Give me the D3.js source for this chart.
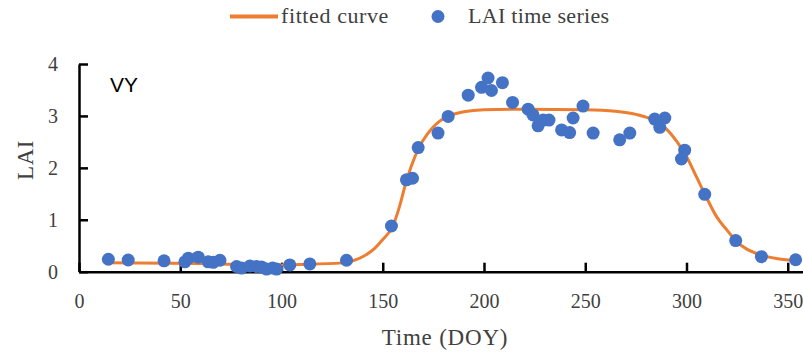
<!DOCTYPE html>
<html>
<head>
<meta charset="utf-8">
<script src="https://cdn.jsdelivr.net/npm/d3@7"></script>
<style>
body { margin: 0; background: #fff; }
</style>
</head>
<body>
<div id="divcont"></div>
<script>
var obsDoy = [14.5, 24.3, 42.0, 52.3, 54.0, 58.9, 63.8, 66.3, 69.6, 77.8, 80.3, 84.4, 87.7, 90.2, 92.6, 95.6, 97.6, 104.1, 114.0, 132.1,
  154.3, 161.7, 164.7, 167.5, 177.3, 182.3, 192.2, 198.8, 202.0, 203.7, 209.1, 214.1, 221.8, 224.2, 226.7, 229.2, 232.1,
  238.3, 242.3, 244.0, 248.9, 253.9, 267.0, 272.0, 284.3, 286.8, 289.3, 297.5, 299.1, 309.0, 324.3, 337.0, 353.9]
var obsLai = [0.24, 0.225, 0.21, 0.19, 0.26, 0.28, 0.19, 0.18, 0.22, 0.10, 0.07, 0.11, 0.10, 0.09, 0.05, 0.07, 0.05, 0.13, 0.15, 0.22,
  0.88, 1.77, 1.80, 2.39, 2.67, 2.99, 3.40, 3.55, 3.73, 3.49, 3.64, 3.26, 3.13, 3.02, 2.81, 2.92, 2.92,
  2.73, 2.68, 2.96, 3.19, 2.67, 2.54, 2.67, 2.94, 2.78, 2.96, 2.17, 2.34, 1.49, 0.60, 0.29, 0.23]

// fitted curve
var fitDoy = [14, 60, 90, 110, 130, 136, 142, 146, 150, 155, 158, 161, 164, 168, 172, 176, 182, 190, 200, 220, 250, 265, 275, 283, 290, 295, 300, 305, 309, 315, 320, 325, 330, 337, 345, 355]
var fitLai = [0.17, 0.16, 0.13, 0.14, 0.17, 0.22, 0.33, 0.45, 0.62, 0.88, 1.22, 1.65, 2.02, 2.40, 2.65, 2.83, 2.99, 3.08, 3.12, 3.13, 3.12, 3.09, 3.03, 2.93, 2.75, 2.52, 2.22, 1.82, 1.50, 1.05, 0.80, 0.57, 0.43, 0.32, 0.25, 0.21]

var xTicks = [0, 50, 100, 150, 200, 250, 300, 350]
var yTicks = [0, 1, 2, 3, 4]

var wd = 803
var ht = 354
var serif = "'Liberation Serif', serif"
var txtCol = "#404040"
var blue = "#4472C4"
var orange = "#ED7D31"

var svg = d3.select("#divcont")
  .append("svg")
  .attr("width", wd)
  .attr("height", ht)

var xScale = d3.scaleLinear().domain([0, 360]).range([79, 808])
var yScale = d3.scaleLinear().domain([0, 4]).range([271.7, 64])

// axes, ticks point inward
var xAxis = d3.axisBottom(xScale).tickValues(xTicks).tickFormat(d3.format("d"))
  .tickSizeInner(-9).tickSizeOuter(0).tickPadding(22)
var yAxis = d3.axisLeft(yScale).tickValues(yTicks).tickFormat(d3.format("d"))
  .tickSizeInner(-9).tickSizeOuter(0).tickPadding(21)

var gx = svg.append("g")
  .attr("transform", "translate(0," + yScale(0) + ")")
  .call(xAxis)
var gy = svg.append("g")
  .attr("transform", "translate(" + xScale(0) + ",0)")
  .call(yAxis)

gx.attr("font-family", serif).attr("font-size", 20)
gy.attr("font-family", serif).attr("font-size", 20)

svg.selectAll(".domain, .tick line")
  .attr("stroke", "#000")
  .attr("stroke-width", 2.5)
svg.selectAll(".tick text")
  .attr("fill", txtCol)
  .style("font-family", serif)
  .style("font-size", "20px")

// fitted curve
var line = d3.line()
  .x(function(d, i) { return xScale(fitDoy[i]) })
  .y(function(d, i) { return yScale(fitLai[i]) })
  .curve(d3.curveMonotoneX)

svg.append("path")
  .datum(fitDoy)
  .attr("d", line)
  .attr("fill", "none")
  .attr("stroke", orange)
  .attr("stroke-width", 3)

// observations
svg.append("g").selectAll("circle")
  .data(obsDoy)
  .enter()
  .append("circle")
  .attr("cx", function(d) { return xScale(d) })
  .attr("cy", function(d, i) { return yScale(obsLai[i]) })
  .attr("r", 6.5)
  .attr("fill", blue)

// labels
svg.append("text")
  .attr("x", 110)
  .attr("y", 91.5)
  .text("VY")
  .attr("fill", "#000")
  .style("font-family", "'Liberation Sans', sans-serif")
  .style("font-size", "21px")

svg.append("text")
  .attr("x", 445)
  .attr("y", 345)
  .attr("text-anchor", "middle")
  .text("Time (DOY)")
  .attr("fill", txtCol)
  .style("font-family", serif)
  .style("font-size", "23px")
  .style("letter-spacing", "0.8px")

svg.append("text")
  .attr("transform", "translate(33,160) rotate(-90)")
  .attr("text-anchor", "middle")
  .text("LAI")
  .attr("fill", txtCol)
  .style("font-family", serif)
  .style("font-size", "23px")
  .style("letter-spacing", "0.5px")

// legend
svg.append("line")
  .attr("x1", 230).attr("x2", 278)
  .attr("y1", 16.5).attr("y2", 16.5)
  .attr("stroke", orange)
  .attr("stroke-width", 4)
svg.append("text")
  .attr("x", 281).attr("y", 23)
  .text("fitted curve")
  .attr("fill", txtCol)
  .style("font-family", serif)
  .style("font-size", "22px")
  .style("letter-spacing", "0.6px")
svg.append("circle")
  .attr("cx", 438).attr("cy", 16.5)
  .attr("r", 6.5)
  .attr("fill", blue)
svg.append("text")
  .attr("x", 468).attr("y", 23)
  .text("LAI time series")
  .attr("fill", txtCol)
  .style("font-family", serif)
  .style("font-size", "22px")
  .style("letter-spacing", "0.3px")
</script>
</body>
</html>
